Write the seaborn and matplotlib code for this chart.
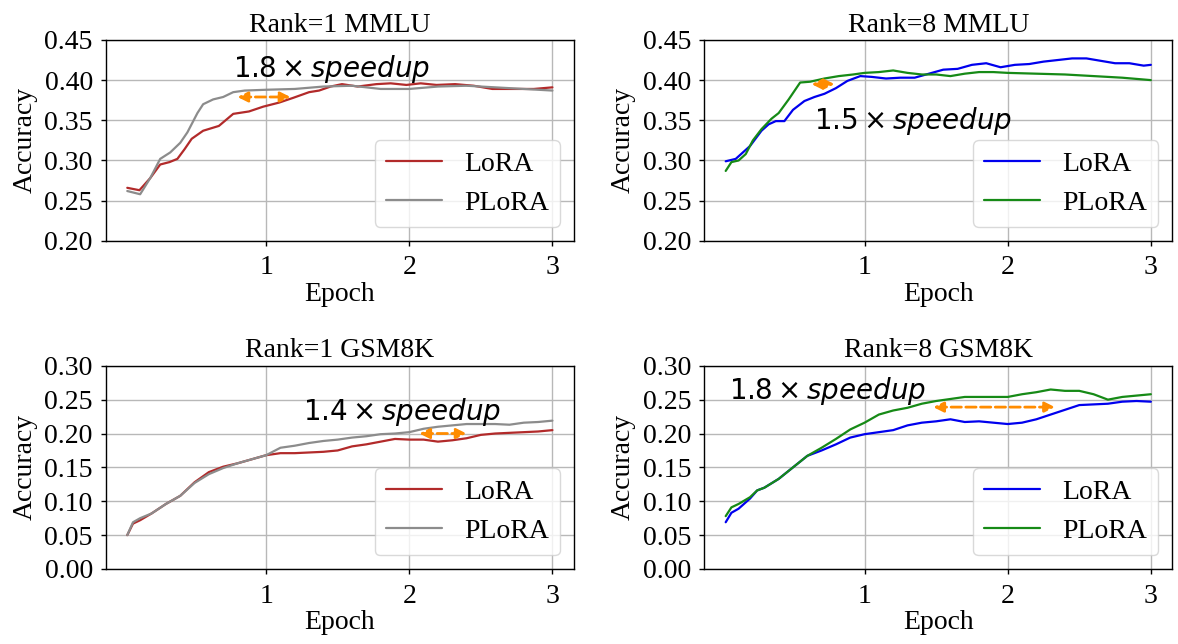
import matplotlib
matplotlib.use("Agg")
import matplotlib.pyplot as plt
import seaborn as sns

# ---------------- data ----------------
p1_lora_x = [0.03, 0.115, 0.19, 0.26, 0.325, 0.38, 0.43, 0.48, 0.56, 0.67, 0.77, 0.88, 0.98, 1.09, 1.19,
             1.30, 1.37, 1.45, 1.53, 1.64, 1.77, 1.87, 1.98, 2.08, 2.19, 2.32, 2.45, 2.58, 2.71, 2.87, 3.0]
p1_lora_y = [0.266, 0.263, 0.278, 0.295, 0.298, 0.302, 0.314, 0.327, 0.337, 0.343, 0.358, 0.361, 0.367, 0.372,
             0.378, 0.385, 0.387, 0.392, 0.395, 0.392, 0.395, 0.396, 0.394, 0.396, 0.394, 0.395, 0.393, 0.389,
             0.389, 0.389, 0.391]
p1_plora_x = [0.03, 0.12, 0.19, 0.26, 0.33, 0.40, 0.45, 0.52, 0.56, 0.63, 0.70, 0.77, 0.85, 1.0, 1.2, 1.4,
              1.6, 1.8, 2.0, 2.2, 2.4, 2.6, 2.8, 3.0]
p1_plora_y = [0.262, 0.258, 0.278, 0.302, 0.310, 0.322, 0.335, 0.359, 0.370, 0.376, 0.379, 0.385, 0.387,
              0.388, 0.389, 0.392, 0.393, 0.389, 0.389, 0.392, 0.393, 0.391, 0.389, 0.387]

p2_lora_x = [0.03, 0.1, 0.2, 0.28, 0.33, 0.38, 0.44, 0.5, 0.58, 0.65, 0.72, 0.8, 0.88, 0.97, 1.05, 1.15,
             1.25, 1.35, 1.45, 1.55, 1.65, 1.75, 1.85, 1.95, 2.05, 2.15, 2.25, 2.35, 2.45, 2.55, 2.65, 2.75,
             2.85, 2.95, 3.0]
p2_lora_y = [0.299, 0.302, 0.318, 0.337, 0.345, 0.349, 0.349, 0.363, 0.374, 0.379, 0.383, 0.390, 0.399,
             0.405, 0.404, 0.402, 0.403, 0.403, 0.408, 0.413, 0.414, 0.419, 0.421, 0.416, 0.419, 0.420, 0.423,
             0.425, 0.427, 0.427, 0.424, 0.421, 0.421, 0.418, 0.419]
p2_plora_x = [0.03, 0.07, 0.12, 0.17, 0.22, 0.28, 0.35, 0.4, 0.47, 0.55, 0.62, 0.72, 0.82, 0.92, 1.0, 1.1,
              1.2, 1.3, 1.4, 1.5, 1.6, 1.7, 1.8, 1.9, 2.0, 2.2, 2.4, 2.6, 2.8, 3.0]
p2_plora_y = [0.287, 0.298, 0.300, 0.308, 0.325, 0.339, 0.352, 0.359, 0.376, 0.397, 0.398, 0.402, 0.405,
              0.407, 0.409, 0.410, 0.412, 0.409, 0.407, 0.407, 0.405, 0.408, 0.410, 0.410, 0.409, 0.408,
              0.407, 0.405, 0.403, 0.400]

p3_x = [0.03, 0.07, 0.12, 0.2, 0.3, 0.4, 0.5, 0.6, 0.7, 0.8, 0.9, 1.0, 1.1, 1.2, 1.3, 1.4, 1.5, 1.6,
        1.7, 1.8, 1.9, 2.0, 2.1, 2.2, 2.3, 2.4, 2.5, 2.6, 2.7, 2.8, 2.9, 3.0]
p3_lora_y = [0.050, 0.067, 0.072, 0.082, 0.096, 0.108, 0.128, 0.143, 0.151, 0.156, 0.162, 0.168, 0.171,
             0.171, 0.172, 0.173, 0.175, 0.181, 0.184, 0.188, 0.192, 0.191, 0.191, 0.188, 0.190, 0.193,
             0.198, 0.200, 0.201, 0.202, 0.203, 0.205]
p3_plora_y = [0.050, 0.069, 0.075, 0.082, 0.096, 0.108, 0.127, 0.140, 0.149, 0.156, 0.162, 0.168, 0.179,
              0.182, 0.186, 0.189, 0.191, 0.194, 0.196, 0.199, 0.200, 0.202, 0.207, 0.210, 0.212, 0.214,
              0.214, 0.214, 0.213, 0.216, 0.217, 0.219]

p4_x = [0.03, 0.07, 0.12, 0.2, 0.25, 0.3, 0.4, 0.5, 0.6, 0.7, 0.8, 0.9, 1.0, 1.1, 1.2, 1.3, 1.4, 1.5,
        1.6, 1.7, 1.8, 1.9, 2.0, 2.1, 2.2, 2.3, 2.4, 2.5, 2.6, 2.7, 2.8, 2.9, 3.0]
p4_lora_y = [0.069, 0.083, 0.089, 0.104, 0.116, 0.120, 0.133, 0.150, 0.167, 0.175, 0.184, 0.194, 0.199,
             0.202, 0.205, 0.212, 0.216, 0.218, 0.221, 0.217, 0.218, 0.216, 0.214, 0.216, 0.221, 0.228,
             0.235, 0.242, 0.243, 0.244, 0.247, 0.248, 0.247]
p4_plora_y = [0.078, 0.091, 0.096, 0.106, 0.116, 0.120, 0.133, 0.150, 0.167, 0.179, 0.192, 0.206, 0.216,
              0.228, 0.234, 0.238, 0.244, 0.248, 0.251, 0.254, 0.254, 0.254, 0.254, 0.258, 0.261, 0.265,
              0.263, 0.263, 0.258, 0.250, 0.254, 0.256, 0.258]

titles = ["Rank=1 MMLU", "Rank=8 MMLU", "Rank=1 GSM8K", "Rank=8 GSM8K"]
speedup_labels = ["1.8", "1.5", "1.4", "1.8"]
x_ticks = [1, 2, 3]
mmlu_yticks = [0.20, 0.25, 0.30, 0.35, 0.40, 0.45]
gsm_yticks = [0.00, 0.05, 0.10, 0.15, 0.20, 0.25, 0.30]
# arrow spans (x0, x1, y) and label anchor (x, y)
arrows = [(0.80, 1.17, 0.379), (0.63, 0.79, 0.395), (2.07, 2.40, 0.200), (1.48, 2.33, 0.239)]
label_pos = [(0.77, 0.404), (0.645, 0.339), (1.26, 0.220), (0.05, 0.251)]

# ---------------- style ----------------
sns.set_theme(style="ticks")
plt.rcParams["font.family"] = ["Liberation Serif", "DejaVu Serif"]
plt.rcParams["mathtext.fontset"] = "dejavusans"
plt.rcParams["axes.edgecolor"] = "black"
plt.rcParams["axes.labelcolor"] = "black"
plt.rcParams["text.color"] = "black"
plt.rcParams["xtick.color"] = "black"
plt.rcParams["ytick.color"] = "black"

FS = 20

fig = plt.figure(figsize=(11.78, 6.44), dpi=100)
rects = [
    [0.090, 0.626, 0.397, 0.312],
    [0.598, 0.626, 0.397, 0.312],
    [0.090, 0.1165, 0.397, 0.3155],
    [0.598, 0.1165, 0.397, 0.3155],
]

series = [
    (p1_lora_x, p1_lora_y, p1_plora_x, p1_plora_y, "#b22a2a", "#8c8c8c"),
    (p2_lora_x, p2_lora_y, p2_plora_x, p2_plora_y, "#0000ee", "#168a16"),
    (p3_x, p3_lora_y, p3_x, p3_plora_y, "#b22a2a", "#8c8c8c"),
    (p4_x, p4_lora_y, p4_x, p4_plora_y, "#0000ee", "#168a16"),
]

for i, (rect, (lx, ly, px, py, lc, pc)) in enumerate(zip(rects, series)):
    ax = fig.add_axes(rect)
    sns.lineplot(x=lx, y=ly, ax=ax, color=lc, lw=1.6, label="LoRA")
    sns.lineplot(x=px, y=py, ax=ax, color=pc, lw=1.6, label="PLoRA")
    ax.set_title(titles[i], fontsize=FS, color="black")
    ax.set_xlabel("Epoch", fontsize=FS, labelpad=1)
    ax.set_ylabel("Accuracy", fontsize=FS, labelpad=5)
    ax.set_xticks(x_ticks)
    yt = mmlu_yticks if i < 2 else gsm_yticks
    ax.set_yticks(yt)
    ax.set_yticklabels([f"{v:.2f}" for v in yt])
    ax.set_ylim(yt[0], yt[-1])
    ax.tick_params(labelsize=FS, length=3.5, width=1)
    ax.tick_params(axis="x", pad=7)
    ax.tick_params(axis="y", pad=6)
    ax.grid(True, color="#b8b8b8", lw=1)
    for s in ax.spines.values():
        s.set_linewidth(1)
        s.set_color("black")
    x0, x1, ya = arrows[i]
    ax.annotate("", xy=(x1, ya), xytext=(x0, ya),
                arrowprops=dict(arrowstyle="<|-|>,head_length=0.5,head_width=0.25",
                                color="darkorange", lw=2, ls="--",
                                mutation_scale=12, shrinkA=0, shrinkB=0))
    tx, ty = label_pos[i]
    ax.text(tx, ty, r"$" + speedup_labels[i] + r"\times speedup$", fontsize=FS,
            ha="left", va="baseline", color="black")
    leg = ax.legend(loc="lower right", fontsize=FS, frameon=True, framealpha=0.8)
    leg.get_frame().set_edgecolor("#d0d0d0")
    for t in leg.get_texts():
        t.set_color("black")

fig.savefig("out.png", dpi=100)
